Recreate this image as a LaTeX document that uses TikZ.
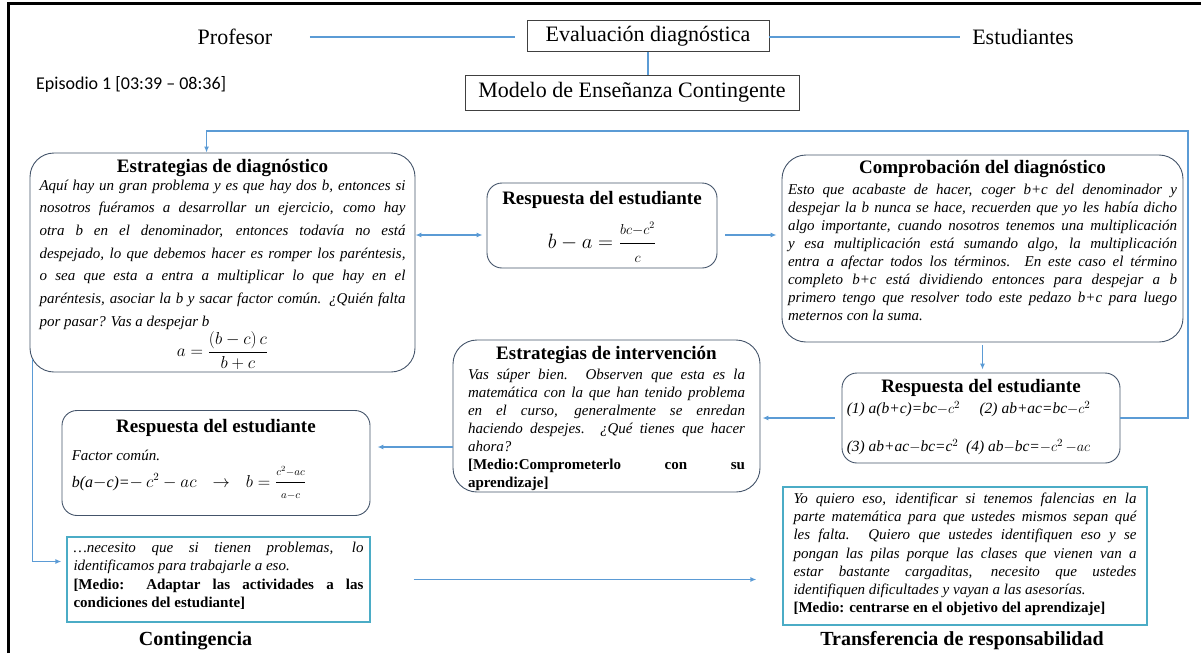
\documentclass[tikz,border=0pt]{standalone}
\usepackage{fontspec}
\usepackage{amsmath}
\setmainfont{Liberation Serif}
\newfontfamily\episfont{Carlito}
\usetikzlibrary{arrows.meta,calc}

\newcommand\fsz[2]{\fontsize{#1}{#2}\selectfont}
\definecolor{flowblue}{HTML}{5B9BD5}
\definecolor{boxline}{HTML}{44546A}
\definecolor{quoteline}{HTML}{4BACC6}

\tikzset{
  rbox/.style={draw=boxline, line width=0.9pt, rounded corners=24pt, inner sep=0pt},
  sbox/.style={draw=boxline, line width=0.9pt, rounded corners=15pt, inner sep=0pt},
  qbox/.style={draw=quoteline, line width=1.2pt, inner sep=0pt},
  tbox/.style={draw=black!75, line width=0.8pt, inner sep=0pt, font=\fsz{22}{24}},
  flow/.style={draw=flowblue, line width=1.8pt},
  arrowed/.style={-{Latex[length=6pt,width=5pt]}},
  hdtxt/.style={font=\fsz{19}{21}\bfseries, inner sep=0pt},
  bodytxt/.style={align=justify, inner sep=0pt, anchor=north},
}

\begin{document}
\begin{tikzpicture}[x=1pt,y=-1pt]
  \useasboundingbox (0,0) rectangle (1201,653);
  \draw[line width=3pt] (8,653) -- (8,3) -- (1201,3);

  % cabecera
  \node[font=\fsz{22}{24}] (prof) at (235,37) {Profesor};
  \node[tbox, minimum width=242pt, minimum height=31pt] (evald) at (648,36) {Evaluación diagnóstica};
  \node[font=\fsz{22}{24}] (estud) at (1023,37) {Estudiantes};
  \node[tbox, minimum width=334pt, minimum height=35pt] (modelo) at (632,92.5) {Modelo de Enseñanza Contingente};
  \node[font=\episfont\fsz{18}{20}, anchor=west, inner sep=0pt] (epis) at (36,84) {Episodio 1 [03:39 – 08:36]};
  \draw[flow, shorten <=34pt, shorten >=12pt] (prof.east) -- (evald.west |- prof.east);
  \draw[flow, shorten >=9pt] (evald.east |- estud.west) -- (estud.west);
  \draw[flow] (evald.south) -- (evald.south |- modelo.north);

  % estrategias de diagnostico
  \node[rbox, minimum width=385pt, minimum height=219pt] (diag) at (222.5,262.5) {};
  \node[hdtxt] (diaghd) at ($(diag.north)+(0,15)$) {Estrategias de diagnóstico};
  \node[bodytxt, text width=366pt, font=\fsz{15}{22.7}\itshape] (diagtx) at ($(diag.north)+(0,27)$) {%
    Aquí hay un gran problema y es que hay dos b, entonces si\linebreak
    nosotros fuéramos a desarrollar un ejercicio, como hay\linebreak
    otra b en el denominador, entonces todavía no está\linebreak
    despejado, lo que debemos hacer es romper los paréntesis,\linebreak
    o sea que esta a entra a multiplicar lo que hay en el\linebreak
    paréntesis, asociar la b y sacar factor común. ¿Quién falta\linebreak
    por pasar? Vas a despejar b};
  \node[font=\fsz{16}{18}] (diageq) at ($(diag.south)+(0,-22)$) {$a=\dfrac{(b-c)\,c}{b+c}$};

  % respuesta 1
  \node[sbox, minimum width=230pt, minimum height=85pt] (resp1) at (602,225.5) {};
  \node[hdtxt] (resp1hd) at ($(resp1.north)+(0,17)$) {Respuesta del estudiante};
  \node[font=\fsz{20}{22}] (resp1eq) at ($(resp1.south)+(0,-26)$) {$b-a=\dfrac{\scriptstyle bc-c^2}{\scriptstyle c}$};

  % comprobacion
  \node[rbox, minimum width=401pt, minimum height=187pt] (comp) at (982.5,248.5) {};
  \node[hdtxt] (comphd) at ($(comp.north)+(0,14)$) {Comprobación del diagnóstico};
  \node[bodytxt, text width=389pt, font=\fsz{15}{18}\itshape] (comptx) at ($(comp.north)+(0,29)$) {%
    Esto que acabaste de hacer, coger b+c del denominador y\linebreak
    despejar la b nunca se hace, recuerden que yo les había dicho\linebreak
    algo importante, cuando nosotros tenemos una multiplicación\linebreak
    y esa multiplicación está sumando algo, la multiplicación\linebreak
    entra a afectar todos los términos. En este caso el término\linebreak
    completo b+c está dividiendo entonces para despejar a b\linebreak
    primero tengo que resolver todo este pedazo b+c para luego\linebreak
    meternos con la suma.};

  % respuesta 3
  \node[sbox, minimum width=278pt, minimum height=90pt] (resp3) at (981,418) {};
  \node[hdtxt] (resp3hd) at ($(resp3.north)+(0,15)$) {Respuesta del estudiante};
  \node[font=\fsz{15.5}{18}\itshape, anchor=west, inner sep=0pt] (resp3a) at ($(resp3.west)+(5,-9)$)
    {(1) a(b+c)=bc$-c^2$\quad\ (2) ab+ac=bc$-c^2$};
  \node[font=\fsz{15.5}{18}\itshape, anchor=west, inner sep=0pt] (resp3b) at ($(resp3.west)+(5,29)$)
    {(3) ab+ac$-$bc=c$^2$\enspace (4) ab$-$bc=$-c^2\,{-}ac$};

  % estrategias de intervencion
  \node[rbox, minimum width=307pt, minimum height=152pt] (interv) at (606.5,416) {};
  \node[hdtxt] (intervhd) at ($(interv.north)+(0,15)$) {Estrategias de intervención};
  \node[bodytxt, text width=277pt, font=\fsz{15}{18}\itshape] (intervtx) at ($(interv.north)+(0,29)$) {%
    Vas súper bien. Observen que esta es la\linebreak
    matemática con la que han tenido problema\linebreak
    en el curso, generalmente se enredan\linebreak
    haciendo despejes. ¿Qué tienes que hacer\linebreak
    ahora?\par
    {\upshape\bfseries [Medio:Comprometerlo con su\linebreak aprendizaje]}};

  % respuesta 2
  \node[sbox, minimum width=308pt, minimum height=105pt] (resp2) at (216,463) {};
  \node[hdtxt] (resp2hd) at ($(resp2.north)+(0,18)$) {Respuesta del estudiante};
  \node[font=\fsz{15}{17}\itshape, anchor=west, inner sep=0pt] (resp2a) at ($(resp2.west)+(10,-8)$) {Factor común.};
  \node[font=\fsz{16}{18}, anchor=west, inner sep=0pt] (resp2b) at ($(resp2.west)+(10,20)$)
    {\textit{b(a$-$c)=}$-\,c^2-ac$\quad $\rightarrow$\quad $b=\dfrac{\scriptstyle c^2-ac}{\scriptstyle a-c}$};

  % citas
  \node[qbox, minimum width=303pt, minimum height=85pt] (nec) at (218.5,579.5) {};
  \node[bodytxt, text width=290pt, font=\fsz{15}{18.5}\itshape] (nectx) at ($(nec.north)+(0,5)$) {%
    …necesito que si tienen problemas, lo\linebreak
    identificamos para trabajarle a eso.\par
    {\upshape\bfseries [Medio: Adaptar las actividades a las\linebreak condiciones del estudiante]}};
  \node[qbox, minimum width=364pt, minimum height=138pt] (yo) at (965,556) {};
  \node[bodytxt, text width=343pt, font=\fsz{15}{18.3}\itshape] (yotx) at ($(yo.north)+(0,6)$) {%
    Yo quiero eso, identificar si tenemos falencias en la\linebreak
    parte matemática para que ustedes mismos sepan qué\linebreak
    les falta. Quiero que ustedes identifiquen eso y se\linebreak
    pongan las pilas porque las clases que vienen van a\linebreak
    estar bastante cargaditas, necesito que ustedes\linebreak
    identifiquen dificultades y vayan a las asesorías.\par
    {\upshape\bfseries [Medio: centrarse en el objetivo del aprendizaje]}};
  \node[hdtxt, font=\fsz{20}{22}\bfseries] (conting) at ($(nec.south)+(-23,18)$) {Contingencia};
  \node[hdtxt, font=\fsz{20}{22}\bfseries] (transf) at ($(yo.south)+(-3,15)$) {Transferencia de responsabilidad};

  % conectores
  \coordinate (lvlA) at (0,235);
  \coordinate (lvlB) at (0,447);
  \coordinate (loopR) at (1188,131);
  \coordinate (necin) at ($(nec.west)+(-5,-18)$);
  \draw[flow, {Latex[length=6pt,width=5pt]}-{Latex[length=6pt,width=5pt]}, shorten >=4pt] (diag.east |- lvlA) -- (resp1.west |- lvlA);
  \draw[flow, arrowed, shorten <=8pt, shorten >=5pt] (resp1.east |- lvlA) -- (comp.west |- lvlA);
  \draw[flow, arrowed, shorten <=3pt, shorten >=3pt] (comp.south) -- (comp.south |- resp3.north);
  \draw[flow, arrowed, shorten <=7pt, shorten >=2pt] (resp3.west) -- (interv.east |- resp3.west);
  \draw[flow, arrowed, shorten >=7pt] (interv.west |- lvlB) -- (resp2.east |- lvlB);
  \draw[flow, arrowed] (resp3.east) -| (loopR) -| ($(diag.north west)+(177,0)$);
  \draw[flow, arrowed] ($(diag.south west)+(3,-13)$) |- (necin);
  \draw[flow, arrowed, shorten <=43pt, shorten >=26pt] (nec.east) -- (yo.west |- nec.east);
\end{tikzpicture}
\end{document}
